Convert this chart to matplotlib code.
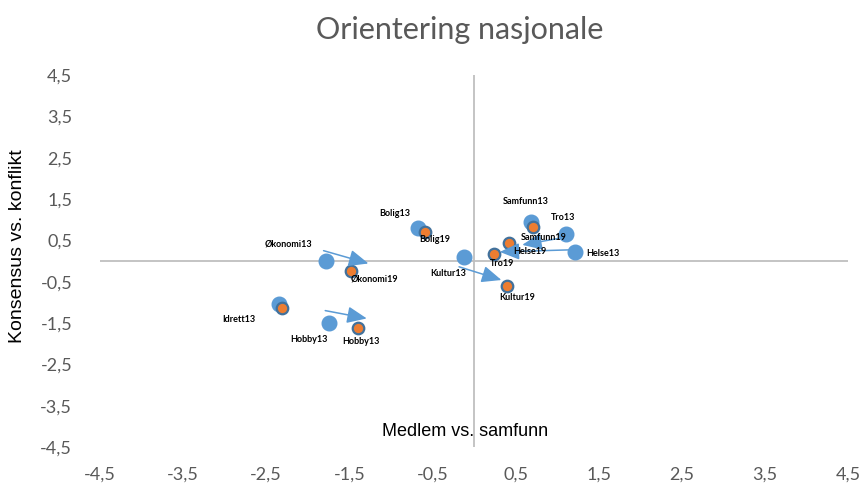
import matplotlib
matplotlib.use("Agg")
import matplotlib.pyplot as plt
import numpy as np

# ---- data ----
cats = ["Økonomi", "Bolig", "Idrett", "Hobby", "Samfunn", "Tro", "Helse", "Kultur"]
x13 = [-1.78, -0.67, -2.35, -1.74, 0.69, 1.11, 1.22, -0.12]
y13 = [0.00, 0.80, -1.04, -1.50, 0.94, 0.65, 0.22, 0.10]
x19 = [-1.48, -0.59, -2.31, -1.40, 0.71, 0.24, 0.42, 0.40]
y19 = [-0.24, 0.70, -1.14, -1.62, 0.82, 0.17, 0.44, -0.61]
labels13 = ["Økonomi13", "Bolig13", "Idrett13", "Hobby13", "Samfunn13", "Tro13", "Helse13", "Kultur13"]
labels19 = ["Økonomi19", "Bolig19", "", "Hobby13", "Samfunn19", "Tro19", "Helse19", "Kultur19"]

arrow_x0 = [-1.81, -1.79, 1.11, 1.16, -0.18]
arrow_y0 = [0.25, -1.20, 0.58, 0.27, -0.14]
arrow_x1 = [-1.27, -1.29, 0.58, 0.31, 0.33]
arrow_y1 = [-0.06, -1.39, 0.39, 0.22, -0.46]

ticks = [-4.5, -3.5, -2.5, -1.5, -0.5, 0.5, 1.5, 2.5, 3.5, 4.5]
tick_labels = [f"{t:.1f}".replace(".", ",") for t in ticks]

# label offsets in pixels (dx right, dy down)
off13 = [(-38, -17), (-24, -14), (-40, 16), (-20, 16), (-6, -21), (-3, -17), (27, 2), (-16, 17)]
off19 = [(23, 8), (10, 7), (0, 0), (3, 14), (11, 10), (8, 10), (21, 9), (10, 11)]

DPI = 100
fig = plt.figure(figsize=(8.65, 4.83), dpi=DPI)
ax = fig.add_axes([100 / 865, 1 - 447 / 483, 748 / 865, 372 / 483])
ax.set_xlim(-4.5, 4.5)
ax.set_ylim(-4.5, 4.5)
for s in ax.spines.values():
    s.set_visible(False)

ax.axhline(0, color="#BFBFBF", lw=1.3, zorder=1)
ax.axvline(0, color="#BFBFBF", lw=1.3, zorder=1)

ax.set_xticks(ticks)
ax.set_xticklabels(tick_labels)
ax.set_yticks(ticks)
ax.set_yticklabels(tick_labels)
ax.tick_params(length=0, labelsize=13, colors="#595959", pad=14)
ax.tick_params(axis="y", pad=20)
for lab in ax.get_xticklabels() + ax.get_yticklabels():
    lab.set_fontfamily("Lato")

blue = "#5B9BD5"
orange = "#ED7D31"
ax.plot(x13, y13, "o", ms=10.5, color=blue, mec=blue, zorder=3)
ax.plot(x19, y19, "o", ms=8.3, color=orange, mec="#41719C", mew=1.6, zorder=4)

px2pt = 72 / DPI
for xs, ys, labs, offs in [(x13, y13, labels13, off13), (x19, y19, labels19, off19)]:
    for xv, yv, lab, (dx, dy) in zip(xs, ys, labs, offs):
        if not lab:
            continue
        ax.annotate(lab, (xv, yv), xytext=(dx * px2pt, -dy * px2pt), textcoords="offset points",
                    ha="center", va="center", fontsize=6.5, fontweight="bold",
                    family="Lato", color="black", zorder=6)

for a0, b0, a1, b1 in zip(arrow_x0, arrow_y0, arrow_x1, arrow_y1):
    ax.annotate("", xy=(a1, b1), xytext=(a0, b0),
                arrowprops=dict(arrowstyle="-|>,head_length=0.75,head_width=0.32",
                                mutation_scale=16, color=blue, lw=1.1,
                                shrinkA=0, shrinkB=0), zorder=5)

fig.text(465 / 865, 1 - 432 / 483, "Medlem vs. samfunn", ha="center", va="center",
         fontsize=13, family="Liberation Sans", color="black")
fig.text(18 / 865, 1 - 246 / 483, "Konsensus vs. konflikt", ha="center", va="center",
         rotation=90, fontsize=14, family="Liberation Sans", color="black")
fig.text(460 / 865, 1 - 30 / 483, "Orientering nasjonale", ha="center", va="center",
         fontsize=22, family="Lato", color="#595959")

fig.savefig("out.png", dpi=DPI)
